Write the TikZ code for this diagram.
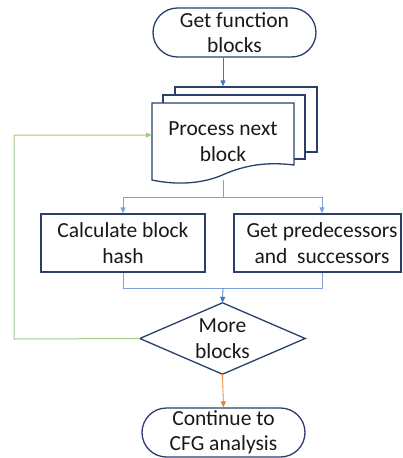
\documentclass[tikz,border=0pt]{standalone}
\usepackage{fontspec}
\setmainfont{Carlito}
\usetikzlibrary{arrows.meta,calc}
\definecolor{navy}{HTML}{2B3F6B}
\definecolor{flowblue}{HTML}{4472C4}
\definecolor{paleblue}{HTML}{7EA1DC}
\definecolor{loopgreen}{HTML}{A2CC85}
\definecolor{exitorange}{HTML}{ED7D31}
\tikzset{
  every node/.style={font=\fontsize{21.5}{25.5}\selectfont, align=center, text=black!90},
  shapeline/.style={draw=navy, line width=1.3pt, fill=white},
  term/.style={shapeline, rectangle, rounded corners=24.5pt, minimum width=163pt, minimum height=49pt, inner sep=0pt},
  procbox/.style={shapeline, rectangle, minimum height=58pt, inner sep=0pt},
  area/.style={rectangle, inner sep=0pt},
  tip/.style={-{Triangle[length=6pt,width=5pt]}},
  flow/.style={draw=flowblue, line width=0.8pt},
  pale/.style={draw=paleblue, line width=0.8pt},
  loopback/.style={draw=loopgreen, line width=1pt},
  exit/.style={draw=exitorange, line width=0.8pt},
}
\begin{document}
\begin{tikzpicture}[x=1pt,y=-1pt]
\useasboundingbox (0,0) rectangle (402,458);

% start terminator
\node[term] (start) at (234.5,32.5) {Get function\\blocks};

% stacked document pages
\node[shapeline, area, minimum width=142pt, minimum height=65pt] (page3) at (246,119.5) {};
\node[shapeline, area, minimum width=142pt, minimum height=64pt] (page2) at (234,127) {};
\draw[shapeline] (152,103) -- (294,103) -- (294,165)
  .. controls (262,161) and (240,167) .. (220,176)
  .. controls (200,184) and (175,185) .. (152,180) -- cycle;
\node[area, minimum width=142pt, minimum height=77pt] (proc) at (223,141.5) {Process next\\block};

% parallel steps
\node[procbox, minimum width=164pt] (calc) at (123,243) {Calculate block\\hash};
\node[procbox, minimum width=167pt] (pred) at (317.5,243) {};
\node (predtext) at (322,243) {Get predecessors\\and\ \ successors};

% decision
\node[area, minimum width=165pt, minimum height=71pt] (more) at (222.5,338.5) {};
\draw[shapeline] (more.north) -- (more.east) -- (more.south) -- (more.west) -- cycle;
\node (moretext) at (more.center) {More\\blocks};

% end terminator
\node[term] (finish) at (223.5,432.5) {Continue to\\CFG analysis};

% connectors
\coordinate (split) at (223,197);
\coordinate (merge) at (223,288);
\coordinate (back) at (14,339);

\draw[flow, tip] ([xshift=-11.5pt]start.south) -- ([xshift=-23pt]page3.north);
\draw[pale] (proc.south) -- (split);
\draw[pale, tip] (split) -| (calc.north);
\draw[pale, tip] (split) -| ([xshift=4.5pt]pred.north);
\draw[pale] (calc.south) |- (merge);
\draw[pale] ([xshift=4.5pt]pred.south) |- (merge);
\draw[flow, tip] (merge) -- (more.north);
\draw[exit, tip] (more.south) -- (finish.north);
\draw[loopback, tip] (more.west) -- (back) |- ([yshift=6.5pt]proc.west);
\end{tikzpicture}
\end{document}
